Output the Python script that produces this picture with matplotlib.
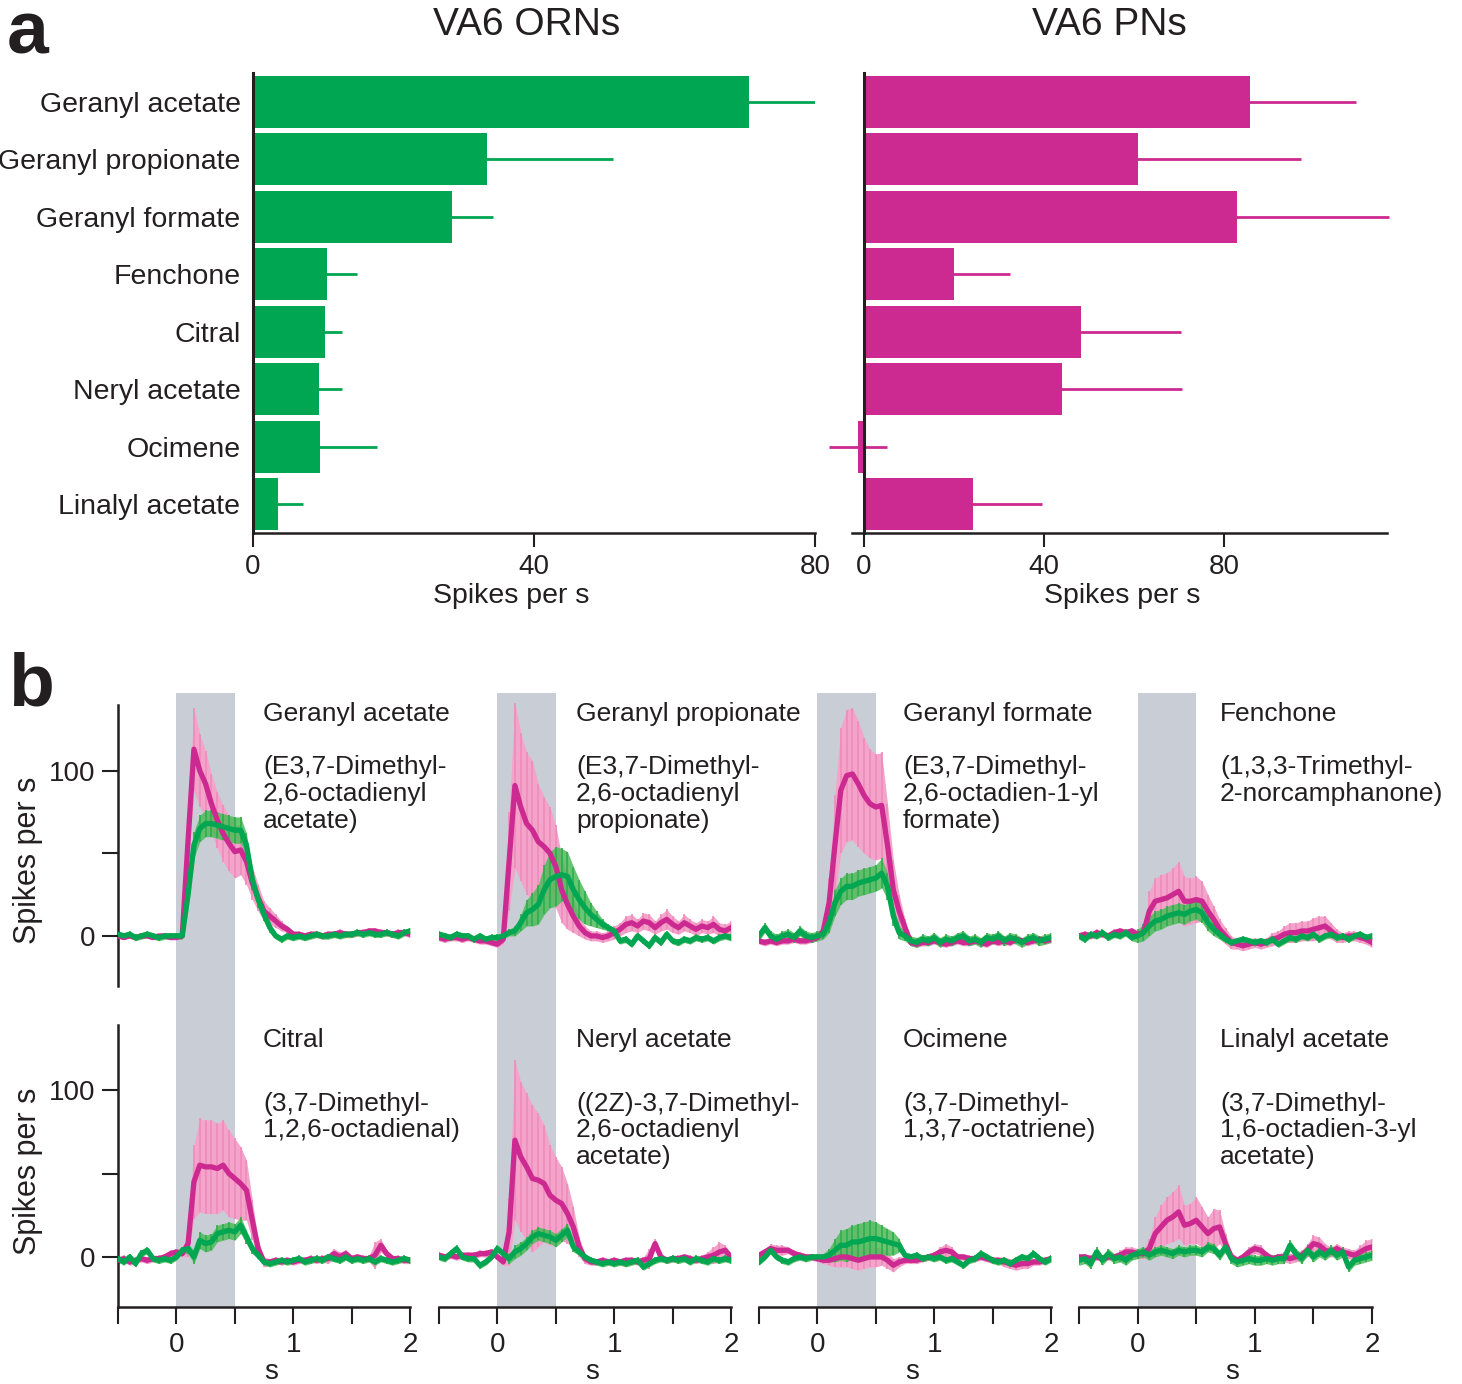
import numpy as np
import matplotlib
matplotlib.use('Agg')
import matplotlib.pyplot as plt

plt.rcParams['font.family'] = ['Liberation Sans', 'DejaVu Sans']
plt.rcParams['text.color'] = '#231f20'
plt.rcParams['axes.edgecolor'] = '#231f20'
plt.rcParams['xtick.color'] = '#231f20'
plt.rcParams['ytick.color'] = '#231f20'

GREEN = '#00a651'
MAGENTA = '#cc2a90'
PINK = '#f4a3ca'
LGREEN = '#4dbb5c'
GRAY = '#c9cdd6'

odors = ['Geranyl acetate', 'Geranyl propionate', 'Geranyl formate', 'Fenchone',
         'Citral', 'Neryl acetate', 'Ocimene', 'Linalyl acetate']
chem_names = ['(E3,7-Dimethyl-\n2,6-octadienyl\nacetate)',
              '(E3,7-Dimethyl-\n2,6-octadienyl\npropionate)',
              '(E3,7-Dimethyl-\n2,6-octadien-1-yl\nformate)',
              '(1,3,3-Trimethyl-\n2-norcamphanone)',
              '(3,7-Dimethyl-\n1,2,6-octadienal)',
              '((2Z)-3,7-Dimethyl-\n2,6-octadienyl\nacetate)',
              '(3,7-Dimethyl-\n1,3,7-octatriene)',
              '(3,7-Dimethyl-\n1,6-octadien-3-yl\nacetate)']

# panel a: mean response, spikes per s
orn_mean = [70.6, 33.3, 28.3, 10.5, 10.2, 9.4, 9.5, 3.6]
orn_err = [9.4, 17.9, 5.9, 4.3, 2.5, 3.3, 8.2, 3.5]
pn_mean = [85.8, 60.9, 82.9, 20.0, 48.2, 44.0, -1.3, 24.2]
pn_err = [23.5, 36.2, 33.8, 12.4, 22.2, 26.7, 6.4, 15.4]

# panel b: PSTHs sampled every 50 ms from -0.5 to 2 s
time = np.linspace(-0.5, 2.0, 51)

pn_traces = [
    [0, -1, 0, -1, 0, 0, -1, 0, 0, -1, -1, 0, 58, 113, 100, 92, 80, 70, 62, 56,
     51, 52, 45, 32, 23, 15, 12, 9, 6, 4, 1, 1, 0, 1, 1, 0, 1, 1, 2, 1,
     1, 2, 2, 3, 3, 2, 2, 1, 2, 2, 1],
    [-1, -2, -1, -1, -2, -1, -2, -3, -3, -4, -5, -2, 45, 91, 78, 68, 64, 57, 54, 50,
     42, 28, 19, 12, 6, 2, 0, 0, -1, 0, 2, 4, 7, 8, 6, 9, 8, 5, 8, 10,
     7, 5, 8, 6, 4, 6, 5, 7, 4, 3, 5],
    [-3, -4, -3, -4, -3, -3, -2, -3, -3, -2, -1, 3, 20, 55, 88, 97, 98, 92, 85, 80,
     78, 79, 55, 28, 15, 5, -4, -5, -4, -4, -3, -4, -5, -4, -3, -4, -4, -3, -4, -5,
     -3, -4, -3, -4, -2, -3, -4, -3, -2, -3, -2],
    [0, 1, 0, 2, 1, 0, 2, 3, 2, 3, 1, 2, 15, 21, 22, 23, 25, 27, 21, 21,
     22, 21, 15, 10, 4, 0, -4, -5, -6, -5, -4, -5, -4, -2, -1, 1, 2, 2, 3, 3,
     4, 5, 6, 3, 0, -1, 0, 0, -1, -2, -4],
    [-2, -1, -3, -2, -1, -2, -1, -1, 0, 2, 3, 2, 8, 45, 55, 54, 54, 53, 55, 50,
     47, 44, 40, 22, 5, -3, -3, -2, -3, -2, -3, -2, -2, -1, -2, -1, -1, 2, 0, 2,
     -1, 0, -1, -1, 1, 7, 2, -1, -1, -2, -2],
    [1, 0, 1, 0, 1, 1, 1, 2, 2, 3, 0, -3, 15, 70, 60, 54, 47, 46, 44, 37,
     34, 32, 26, 18, 6, -1, -3, -3, -2, -3, -2, -3, -2, -2, -3, -2, -1, 8, 0, -2,
     -1, -1, 0, -1, -2, -1, 0, 1, 3, 4, 0],
    [1, 3, 5, 4, 4, 4, 2, 1, 0, 0, -1, -2, -2, -1, 0, 0, -1, -2, -1, 0,
     0, 0, -2, -5, -3, -2, -2, -2, -1, 0, 1, 3, 4, 3, 0, 0, -1, -1, 0, -1,
     -2, -2, -3, -4, -5, -4, -4, -3, -3, -2, -1],
    [0, 0, -1, 0, -1, 0, 0, 1, 3, 3, 2, 2, 5, 14, 18, 22, 24, 27, 19, 20,
     22, 18, 14, 17, 18, 8, 0, -2, 0, 3, 5, 4, 1, -1, 0, 0, -1, 0, 1, 4,
     8, 7, 4, 3, 5, 3, 2, 1, 3, 5, 6],
]
pn_sem = [
    [1, 1, 1, 1, 1, 1, 1, 1, 1, 1, 1, 2, 15, 25, 22, 20, 18, 17, 17, 17,
     16, 15, 14, 10, 8, 6, 5, 4, 3, 2, 2, 2, 2, 2, 2, 2, 2, 2, 2, 2,
     2, 2, 2, 2, 2, 2, 2, 2, 2, 2, 2],
    [2, 2, 2, 2, 2, 2, 2, 2, 2, 2, 2, 3, 30, 50, 45, 43, 42, 35, 30, 28,
     25, 20, 15, 10, 6, 4, 3, 3, 3, 3, 4, 4, 5, 5, 4, 5, 5, 4, 5, 6,
     5, 4, 5, 4, 4, 4, 4, 5, 4, 4, 4],
    [2, 2, 2, 2, 2, 2, 2, 2, 2, 2, 2, 3, 15, 30, 38, 40, 40, 38, 35, 33,
     32, 32, 25, 18, 10, 5, 2, 2, 2, 2, 2, 2, 2, 2, 2, 2, 2, 2, 2, 2,
     2, 2, 2, 2, 2, 2, 2, 2, 2, 2, 2],
    [2, 2, 2, 2, 2, 2, 2, 2, 2, 2, 2, 2, 12, 14, 15, 15, 16, 18, 15, 14,
     14, 12, 10, 8, 6, 5, 4, 3, 3, 3, 3, 3, 3, 4, 4, 5, 6, 6, 6, 6,
     7, 7, 6, 5, 4, 3, 3, 3, 3, 3, 3],
    [2, 2, 2, 2, 2, 2, 2, 2, 2, 2, 2, 2, 8, 22, 28, 28, 28, 27, 27, 26,
     24, 22, 18, 12, 5, 3, 2, 2, 2, 2, 2, 2, 2, 2, 2, 2, 3, 3, 3, 2,
     2, 2, 2, 2, 8, 4, 2, 2, 2, 2, 2],
    [2, 2, 2, 2, 2, 2, 2, 2, 2, 2, 2, 2, 20, 48, 45, 44, 44, 40, 35, 30,
     26, 22, 18, 12, 6, 3, 2, 2, 2, 2, 2, 2, 2, 2, 2, 2, 6, 3, 2, 2,
     2, 2, 2, 2, 2, 2, 3, 5, 6, 3, 2],
    [2, 2, 3, 3, 3, 2, 2, 2, 2, 2, 2, 2, 3, 5, 6, 6, 6, 6, 6, 6,
     6, 5, 5, 4, 3, 2, 2, 2, 2, 2, 2, 3, 4, 3, 2, 2, 2, 2, 2, 2,
     2, 2, 3, 3, 3, 3, 3, 2, 2, 2, 2],
    [2, 2, 2, 2, 2, 2, 2, 3, 3, 3, 3, 3, 6, 10, 13, 14, 15, 16, 12, 12,
     14, 12, 10, 12, 10, 6, 3, 2, 2, 3, 3, 3, 2, 2, 2, 3, 3, 3, 3, 4,
     5, 5, 4, 3, 3, 3, 3, 3, 4, 5, 5],
]
orn_traces = [
    [1, 0, 1, -1, 0, 1, 0, -1, 0, 0, 0, 0, 25, 55, 65, 68, 68, 67, 66, 65,
     64, 64, 55, 34, 22, 13, 5, 0, -2, 0, -1, 0, -1, 0, 1, 0, 0, 1, 0, 1,
     1, 2, 1, 2, 1, 1, 2, 1, 0, 2, 3],
    [1, 0, -1, 1, 0, 0, -2, 0, -2, -1, -1, 0, 2, 3, 8, 14, 16, 19, 28, 34,
     36, 37, 36, 28, 22, 17, 13, 10, 7, 5, 3, -3, -2, -5, 0, -3, -6, -1, -4, 1,
     -3, -4, -2, -3, -1, -2, -1, -3, -1, 0, -1],
    [0, 5, 0, -2, 0, 1, -1, 3, 0, -1, 0, 1, 8, 20, 27, 30, 30, 32, 33, 34,
     35, 38, 30, 12, 2, 0, -3, -4, -2, -3, -1, -4, -2, -3, -1, 0, -3, -2, -4, -1,
     -2, 0, -3, -1, -2, -4, -2, -1, -3, -2, -1],
    [0, -2, 1, 0, 2, -1, 1, 0, 2, -1, 0, 2, 6, 9, 10, 12, 13, 14, 13, 15,
     16, 14, 8, 4, 1, -2, -4, -3, -2, -3, -4, -3, -4, -2, -5, -3, -1, -2, 0, -1,
     1, -2, 0, 1, -1, 0, -2, 0, 1, -1, 0],
    [-1, -3, 0, -4, 2, 4, -1, -2, -1, -2, 0, 4, 5, 0, 10, 8, 9, 14, 15, 16,
     15, 19, 12, 5, 1, -3, -4, -3, -2, -3, -2, -1, -3, -2, -1, -2, 0, -1, -2, 0,
     -2, -1, -2, -1, -3, -1, -2, -3, -2, -1, -2],
    [0, -1, 2, 5, 0, -1, -1, -5, -3, 0, 5, 2, -1, 3, 5, 8, 12, 14, 13, 12,
     10, 13, 16, 6, 3, 0, -2, -3, -4, -3, -4, -3, -4, -3, -2, -6, -4, -2, -1, -2,
     -1, -2, -1, -3, -1, -2, -3, -1, -2, -1, -2],
    [-3, 0, 4, 0, -2, -3, -1, 0, -1, 0, 0, 0, 1, 4, 7, 7, 9, 9, 10, 11,
     11, 10, 9, 8, 7, 1, 0, 1, -1, 0, -1, 0, -2, -1, -3, -5, -2, -1, 2, 0,
     -2, -3, -2, -4, -2, 0, -1, 2, -1, -3, -1],
    [-2, -1, -4, 3, -2, 2, -1, 0, -2, 1, 2, 3, 1, 3, 4, 3, 2, 4, 3, 4,
     4, 3, 6, 5, 1, 6, -1, -3, -2, -1, -2, -2, -1, -2, -1, -1, 7, 2, -1, 4,
     0, 3, 1, 4, 1, 3, -6, -2, -1, 0, 1],
]
orn_sem = [
    [2, 2, 2, 2, 2, 2, 2, 2, 2, 2, 2, 2, 5, 8, 8, 8, 8, 8, 8, 8,
     8, 8, 7, 6, 5, 4, 3, 2, 2, 2, 2, 2, 2, 2, 2, 2, 2, 2, 2, 2,
     2, 2, 2, 2, 2, 2, 2, 2, 2, 2, 2],
    [2, 2, 2, 2, 2, 2, 2, 2, 2, 2, 2, 2, 2, 3, 5, 8, 10, 12, 15, 17,
     18, 16, 15, 14, 12, 10, 7, 5, 3, 2, 2, 2, 2, 2, 2, 2, 2, 2, 2, 2,
     2, 2, 2, 2, 2, 2, 2, 2, 2, 2, 2],
    [3, 3, 3, 3, 3, 3, 3, 3, 3, 3, 3, 3, 6, 8, 8, 8, 8, 8, 8, 8,
     8, 9, 8, 6, 4, 3, 3, 3, 3, 3, 3, 3, 3, 3, 3, 3, 3, 3, 3, 3,
     3, 3, 3, 3, 3, 3, 3, 3, 3, 3, 3],
    [2, 2, 2, 2, 2, 2, 2, 2, 2, 2, 4, 5, 6, 6, 6, 6, 6, 6, 6, 6,
     6, 6, 5, 4, 3, 2, 2, 2, 2, 2, 2, 2, 2, 2, 2, 2, 2, 2, 2, 2,
     2, 2, 2, 2, 2, 2, 2, 2, 2, 2, 2],
    [2, 2, 2, 2, 2, 2, 2, 2, 2, 2, 2, 2, 3, 4, 5, 5, 5, 5, 5, 5,
     5, 5, 4, 3, 2, 2, 2, 2, 2, 2, 2, 2, 2, 2, 2, 2, 2, 2, 2, 2,
     2, 2, 2, 2, 2, 2, 2, 2, 2, 2, 2],
    [2, 2, 2, 2, 2, 2, 2, 2, 2, 2, 2, 2, 3, 4, 4, 4, 4, 4, 4, 4,
     4, 4, 4, 3, 2, 2, 2, 2, 2, 2, 2, 2, 2, 2, 2, 2, 2, 2, 2, 2,
     2, 2, 2, 2, 2, 2, 2, 2, 2, 2, 2],
    [2, 2, 2, 2, 2, 2, 2, 2, 2, 2, 2, 2, 4, 7, 9, 10, 10, 11, 11, 11,
     10, 9, 8, 7, 4, 2, 2, 2, 2, 2, 2, 2, 2, 2, 2, 2, 2, 2, 2, 2,
     2, 2, 2, 2, 2, 2, 2, 2, 2, 2, 2],
    [3, 3, 3, 3, 3, 3, 3, 3, 3, 3, 3, 3, 3, 3, 3, 3, 3, 3, 3, 3,
     3, 3, 3, 3, 3, 3, 3, 3, 3, 3, 3, 3, 3, 3, 3, 3, 3, 3, 3, 3,
     3, 3, 3, 3, 3, 3, 3, 3, 3, 3, 3],
]

W, H = 1462, 1384


def box(l, t, r, b):
    return [l / W, 1 - b / H, (r - l) / W, (b - t) / H]


def ftext(x, y, s, **kw):
    return fig.text(x / W, 1 - y / H, s, **kw)


fig = plt.figure(figsize=(W / 100, H / 100), dpi=100)

# ---- panel a
ypos = np.arange(len(odors))
ax_orn = fig.add_axes(box(253, 73, 815, 533))
ax_pn = fig.add_axes(box(828, 73, 1390.5, 533))
for ax, m, e, c in ((ax_orn, orn_mean, orn_err, GREEN), (ax_pn, pn_mean, pn_err, MAGENTA)):
    ax.barh(ypos, m, height=0.9, color=c, zorder=2)
    ax.errorbar(m, ypos, xerr=e, fmt='none', ecolor=c, elinewidth=2, capsize=0, zorder=1)
    ax.set_ylim(7.5, -0.5)
    ax.spines[['top', 'right']].set_visible(False)
    ax.spines['left'].set_linewidth(2.2)
    ax.spines['bottom'].set_linewidth(1.8)
    ax.set_xticks([0, 40, 80])
    ax.tick_params(axis='x', length=10, width=1.5, labelsize=20, pad=5)
    ax.tick_params(axis='y', length=0, labelsize=20.5, pad=9)
ax_orn.set_xlim(0, 80)
ax_orn.set_yticks(ypos, odors, va='center_baseline')
ax_pn.set_xlim(-8, 117)
ax_pn.set_yticks([])
ax_pn.spines['left'].set_position(('data', 0))
ax_pn.spines['bottom'].set_bounds(-2.7, 116.2)

ftext(527, 25, 'VA6 ORNs', fontsize=28, ha='center', va='center')
ftext(1109, 25, 'VA6 PNs', fontsize=28, ha='center', va='center')
ftext(511, 596, 'Spikes per s', fontsize=20.5, ha='center', va='center')
ftext(1122, 596, 'Spikes per s', fontsize=20.5, ha='center', va='center')
ftext(7, 54, 'a', fontsize=54, fontweight='bold', ha='left', va='baseline')
ftext(8, 706, 'b', fontsize=54, fontweight='bold', ha='left', va='baseline')

# ---- panel b
cols_px = [(118, 410), (439, 731), (759, 1051), (1079, 1372)]
rows_px = [(693, 1005), (1005, 1307)]
ylims = [(-41.8, 147), (-30, 151)]
spine_y = [(-30, 140), (-30, 139)]
title_y = [714, 1040]
line_y = [[767, 794, 821], [1104, 1130, 1157]]
text_x = [263, 576, 903, 1220]

for k in range(8):
    r, c = divmod(k, 4)
    ax = fig.add_axes(box(cols_px[c][0], rows_px[r][0], cols_px[c][1], rows_px[r][1]))
    ax.set_facecolor('none')
    pn = np.array(pn_traces[k], float)
    ps = np.array(pn_sem[k], float)
    orn = np.array(orn_traces[k], float)
    os_ = np.array(orn_sem[k], float)
    ax.axvspan(0, 0.5, color=GRAY, lw=0, zorder=0)
    ax.fill_between(time, pn - ps, pn + ps, color=PINK, lw=0, zorder=1)
    ax.vlines(time, pn - ps, pn + ps, color='#ef8cbc', lw=1.2, zorder=1.5)
    ax.fill_between(time, orn - os_, orn + os_, color=LGREEN, lw=0, alpha=0.85, zorder=2)
    ax.vlines(time, orn - os_, orn + os_, color='#2fae48', lw=1.2, zorder=2.5)
    ax.plot(time, pn, color=MAGENTA, lw=3.8, zorder=3, solid_joinstyle='round')
    ax.plot(time, orn, color=GREEN, lw=3.8, zorder=4, solid_joinstyle='round')
    ax.set_xlim(-0.5, 2)
    ax.set_ylim(*ylims[r])
    ax.spines[['top', 'right']].set_visible(False)
    for sp in ax.spines.values():
        sp.set_linewidth(1.8)
    if c == 0:
        ax.spines['left'].set_bounds(*spine_y[r])
        ax.set_yticks([0, 50, 100], ['0', '', '100'])
        ax.tick_params(axis='y', length=11.5, width=1.5, labelsize=20, pad=5)
        ftext(28, [860, 1171][r], 'Spikes per s', fontsize=22, rotation=90,
              ha='center', va='center')
    else:
        ax.spines['left'].set_visible(False)
        ax.set_yticks([])
    if r == 1:
        ax.set_xticks([0, 1, 2])
        ax.set_xticks([-0.5, 0.5, 1.5], minor=True)
        ax.tick_params(axis='x', which='both', length=12, width=1.5, labelsize=20, pad=6)
        ax.text(0.524, -0.215, 's', transform=ax.transAxes, fontsize=20,
                ha='center', va='center')
    else:
        ax.spines['bottom'].set_visible(False)
        ax.set_xticks([])
    ftext(text_x[c], title_y[r], odors[k], fontsize=19, ha='left', va='center')
    for j, line in enumerate(chem_names[k].split('\n')):
        ftext(text_x[c], line_y[r][j], line, fontsize=19, ha='left', va='center')

fig.savefig('out.png', dpi=100)
